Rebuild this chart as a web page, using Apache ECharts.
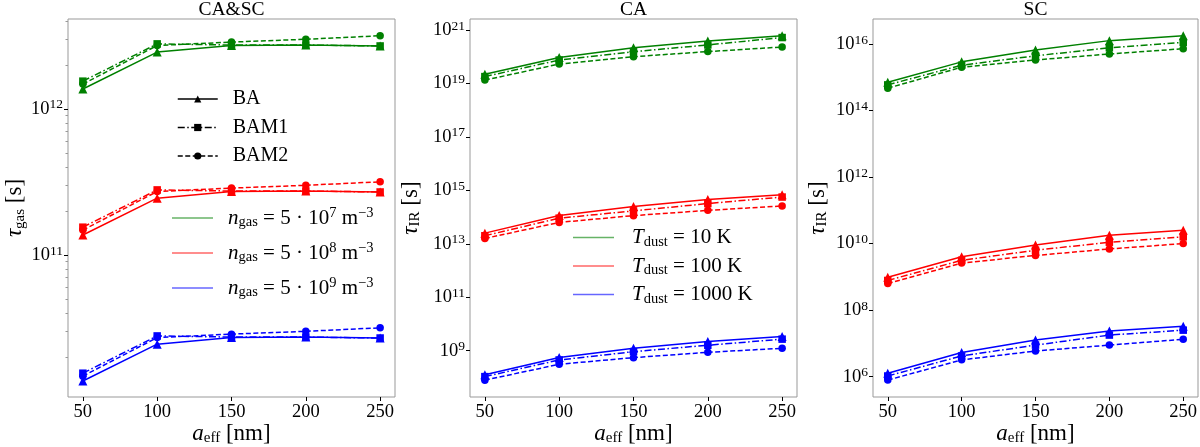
<!DOCTYPE html>
<html><head><meta charset="utf-8">
<script src="https://cdn.jsdelivr.net/npm/echarts@6/dist/echarts.min.js"></script>
<style>html,body{margin:0;padding:0;background:#fff}#c{width:1200px;height:447px}</style>
</head><body><div id="c"></div>
<script>
// ---------- data ----------
const aEff = [50, 100, 150, 200, 250];
const xTicks = [50, 100, 150, 200, 250];

// Panel 1: CA&SC, tau_gas [s]
const gasBA_7   = [1.37e12, 2.45e12, 2.72e12, 2.74e12, 2.70e12];
const gasBAM1_7 = [1.55e12, 2.79e12, 2.74e12, 2.74e12, 2.70e12];
const gasBAM2_7 = [1.48e12, 2.72e12, 2.87e12, 3.00e12, 3.17e12];
const gasBA_8   = [1.37e11, 2.45e11, 2.72e11, 2.74e11, 2.70e11];
const gasBAM1_8 = [1.55e11, 2.79e11, 2.74e11, 2.74e11, 2.70e11];
const gasBAM2_8 = [1.48e11, 2.72e11, 2.87e11, 3.00e11, 3.17e11];
const gasBA_9   = [1.37e10, 2.45e10, 2.72e10, 2.74e10, 2.70e10];
const gasBAM1_9 = [1.55e10, 2.79e10, 2.74e10, 2.74e10, 2.70e10];
const gasBAM2_9 = [1.48e10, 2.72e10, 2.87e10, 3.00e10, 3.17e10];

// Panel 2: CA, tau_IR [s]
const caBA_10     = [2.2e19, 9.4e19, 2.15e20, 3.9e20, 6.1e20];
const caBAM1_10   = [1.8e19, 7.5e19, 1.54e20, 2.75e20, 5.2e20];
const caBAM2_10   = [1.33e19, 5.3e19, 1.0e20, 1.55e20, 2.3e20];
const caBA_100    = [2.5e13, 1.15e14, 2.5e14, 4.5e14, 6.9e14];
const caBAM1_100  = [2.0e13, 9.1e13, 1.7e14, 3.2e14, 5.6e14];
const caBAM2_100  = [1.58e13, 6.3e13, 1.13e14, 1.78e14, 2.6e14];
const caBA_1000   = [1.26e8, 5.6e8, 1.23e9, 2.2e9, 3.4e9];
const caBAM1_1000 = [1.07e8, 4.5e8, 9.2e8, 1.6e9, 2.7e9];
const caBAM2_1000 = [7.9e7, 3.1e8, 5.5e8, 8.7e8, 1.23e9];

// Panel 3: SC, tau_IR [s]
const scBA_10     = [7.1e14, 2.9e15, 6.6e15, 1.26e16, 1.78e16];
const scBAM1_10   = [5.9e14, 2.3e15, 4.4e15, 7.7e15, 1.12e16];
const scBAM2_10   = [4.7e14, 2.0e15, 3.3e15, 5.0e15, 7.2e15];
const scBA_100    = [9.7e8, 4.0e9, 9.1e9, 1.78e10, 2.5e10];
const scBAM1_100  = [7.8e8, 3.15e9, 6.3e9, 1.1e10, 1.6e10];
const scBAM2_100  = [6.3e8, 2.6e9, 4.4e9, 6.9e9, 1.0e10];
const scBA_1000   = [1.26e6, 5.3e6, 1.26e7, 2.35e7, 3.3e7];
const scBAM1_1000 = [1.05e6, 4.2e6, 8.9e6, 1.78e7, 2.5e7];
const scBAM2_1000 = [7.9e5, 3.2e6, 5.9e6, 8.9e6, 1.33e7];

// tick labels
const yTicksGas = [1e11, 1e12];
const yMinorGas = [2e10,3e10,4e10,5e10,6e10,7e10,8e10,9e10,2e11,3e11,4e11,5e11,6e11,7e11,8e11,9e11,2e12,3e12,4e12];
const yTicksCA = [1e9, 1e11, 1e13, 1e15, 1e17, 1e19, 1e21];
const yTicksSC = [1e6, 1e8, 1e10, 1e12, 1e14, 1e16];

const panelTitles = ['CA&SC', 'CA', 'SC'];
const modelNames = ['BA', 'BAM1', 'BAM2'];
const gasLegend = ['n7', 'n8', 'n9'];
const dustLegend = ['T10', 'T100', 'T1000'];
const gasExp = {n7: '7', n8: '8', n9: '9'};
const dustVal = {T10: '10', T100: '100', T1000: '1000'};

// ---------- style ----------
const SERIF = '"Liberation Serif", "DejaVu Serif", serif';
const GREEN = '#008000', RED = '#ff0000', BLUE = '#0000ff';
const colors = [GREEN, RED, BLUE];
const lineTypes = ['solid', [7, 2.5, 1.5, 2.5], [5, 2.5]];
const symbols = ['triangle', 'rect', 'circle'];
const symSizes = [9, 7.5, 7.5];

const rich = {
  n:   {fontFamily: SERIF, fontSize: 21, color: '#000', lineHeight: 24},
  i:   {fontFamily: SERIF, fontSize: 21, fontStyle: 'italic', color: '#000', lineHeight: 24},
  sub: {fontFamily: SERIF, fontSize: 14.5, color: '#000', lineHeight: 14, verticalAlign: 'bottom'},
  sup: {fontFamily: SERIF, fontSize: 14.5, color: '#000', lineHeight: 13, verticalAlign: 'top'},
  b:   {fontFamily: SERIF, fontSize: 18.5, color: '#000', lineHeight: 22},
  s:   {fontFamily: SERIF, fontSize: 13.5, color: '#000', lineHeight: 12, verticalAlign: 'top'}
};
const nameRich = {
  n:   {fontFamily: SERIF, fontSize: 23, color: '#000', lineHeight: 24},
  i:   {fontFamily: SERIF, fontSize: 23, fontStyle: 'italic', color: '#000', lineHeight: 24},
  sub: {fontFamily: SERIF, fontSize: 15, color: '#000', lineHeight: 14, verticalAlign: 'bottom'}
};

const grids = [
  {left: 68,  top: 19, width: 327, height: 378},
  {left: 470, top: 19, width: 327, height: 378},
  {left: 873, top: 19, width: 325, height: 378}
].map(g => Object.assign(g, {show: true, borderColor: '#999', borderWidth: 1, backgroundColor: 'transparent',
  containLabel: false, outerBoundsMode: 'none'}));

const yExtents = [[1.065e10, 4.13e12], [1.85e7, 2.57e21], [2.45e5, 5.63e16]];
const yTickSets = [yTicksGas, yTicksCA, yTicksSC];
const yNames = ['{i|τ}{sub|gas}{n| [s]}', '{i|τ}{sub|IR}{n| [s]}', '{i|τ}{sub|IR}{n| [s]}'];
const yNameGaps = [40, 47, 43];

const xAxes = grids.map((g, k) => ({
  type: 'value', gridIndex: k, min: 40, max: 260,
  axisLine: {show: false},
  splitLine: {show: false},
  axisTick: {show: true, customValues: xTicks, length: 4, lineStyle: {color: '#000', width: 1}},
  axisLabel: {customValues: xTicks, fontFamily: SERIF, fontSize: 18.5, color: '#000', margin: 6},
  name: '{i|a}{sub|eff}{n| [nm]}', nameLocation: 'middle', nameGap: 25, nameMoveOverlap: false,
  nameTextStyle: {rich: nameRich}
}));

const expFmt = v => '{b|10}{s|' + Math.round(Math.log10(v)) + '}';

const yAxes = grids.map((g, k) => ({
  type: 'log', logBase: 10, gridIndex: k, min: yExtents[k][0], max: yExtents[k][1],
  axisLine: {show: false},
  splitLine: {show: false},
  minorTick: {show: false},
  axisTick: {show: true, customValues: yTickSets[k], length: 4, lineStyle: {color: '#000', width: 1}},
  axisLabel: {customValues: yTickSets[k], formatter: expFmt, rich: rich, margin: 5},
  name: yNames[k], nameLocation: 'middle', nameGap: yNameGaps[k], nameRotate: 90,
  nameTextStyle: {rich: nameRich}
}));
// minor ticks for panel 1
yAxes.push({
  type: 'log', logBase: 10, gridIndex: 0, min: yExtents[0][0], max: yExtents[0][1], position: 'left',
  axisLine: {show: false}, splitLine: {show: false},
  axisTick: {show: true, customValues: yMinorGas, length: 2.5, lineStyle: {color: '#999', width: 1}},
  axisLabel: {show: false}
});

function mk(name, vals, color, m, k) {
  return {
    type: 'line', name: name, xAxisIndex: k, yAxisIndex: k,
    data: aEff.map((x, j) => [x, vals[j]]),
    symbol: symbols[m], symbolSize: symSizes[m],
    lineStyle: {color: color, width: 1.5, type: lineTypes[m]},
    itemStyle: {color: color},
    emphasis: {disabled: true},
    animation: false, z: 3 + m
  };
}

const panelData = [
  [[gasBA_7, gasBAM1_7, gasBAM2_7], [gasBA_8, gasBAM1_8, gasBAM2_8], [gasBA_9, gasBAM1_9, gasBAM2_9]],
  [[caBA_10, caBAM1_10, caBAM2_10], [caBA_100, caBAM1_100, caBAM2_100], [caBA_1000, caBAM1_1000, caBAM2_1000]],
  [[scBA_10, scBAM1_10, scBAM2_10], [scBA_100, scBAM1_100, scBAM2_100], [scBA_1000, scBAM1_1000, scBAM2_1000]]
];

const series = [];
panelData.forEach((panel, k) => {
  panel.forEach((group, c) => {
    group.forEach((vals, m) => {
      series.push(mk('p' + k + '-c' + c + '-m' + m, vals, colors[c], m, k));
    });
  });
});
// legend-only series
modelNames.forEach((nm, m) => {
  series.push({type: 'line', name: nm, xAxisIndex: 0, yAxisIndex: 0, data: [],
    symbol: symbols[m], symbolSize: 7,
    lineStyle: {color: '#000', width: 1.5, type: lineTypes[m]}, itemStyle: {color: '#000'}, animation: false});
});
gasLegend.forEach((nm, c) => {
  series.push({type: 'line', name: nm, xAxisIndex: 0, yAxisIndex: 0, data: [], symbol: 'none',
    lineStyle: {color: colors[c], width: 1}, itemStyle: {color: colors[c]}, animation: false});
});
dustLegend.forEach((nm, c) => {
  series.push({type: 'line', name: nm, xAxisIndex: 1, yAxisIndex: 1, data: [], symbol: 'none',
    lineStyle: {color: colors[c], width: 1}, itemStyle: {color: colors[c]}, animation: false});
});

const fadeCols = ['rgba(0,128,0,0.6)', 'rgba(255,0,0,0.6)', 'rgba(0,0,255,0.6)'];

const legends = [
  {
    data: modelNames, orient: 'vertical', left: 177, top: 88, padding: 0,
    itemWidth: 40, itemHeight: 9, itemGap: 6.5, selectedMode: false,
    lineStyle: {width: 1.5},
    textStyle: {fontFamily: SERIF, fontSize: 20, color: '#000', lineHeight: 22, padding: [0, 0, 0, 10]}
  },
  {
    data: gasLegend.map((nm, c) => ({name: nm, icon: 'rect', itemStyle: {color: fadeCols[c]}})),
    orient: 'vertical', left: 172, top: 206, padding: 0,
    itemWidth: 41, itemHeight: 1.3, itemGap: 11, selectedMode: false,
    formatter: nm => '{i|n}{sub|gas}{n| = 5 · 10}{sup|' + gasExp[nm] + '}{n| m}{sup|−3}',
    textStyle: {rich: rich, padding: [0, 0, 0, 10]}
  },
  {
    data: dustLegend.map((nm, c) => ({name: nm, icon: 'rect', itemStyle: {color: fadeCols[c]}})),
    orient: 'vertical', left: 573, top: 227, padding: 0,
    itemWidth: 41, itemHeight: 1.3, itemGap: 6, selectedMode: false,
    formatter: nm => '{i|T}{sub|dust}{n| = ' + dustVal[nm] + ' K}',
    textStyle: {rich: rich, padding: [0, 0, 0, 13]}
  }
];

const titles = panelTitles.map((t, k) => ({
  text: t, left: grids[k].left + grids[k].width / 2, top: 0, textAlign: 'center', padding: 0,
  textStyle: {fontFamily: SERIF, fontSize: 19.5, fontWeight: 'normal', color: '#000'}
}));

const chart = echarts.init(document.getElementById('c'), null, {renderer: 'canvas'});
chart.setOption({
  animation: false,
  backgroundColor: '#fff',
  title: titles,
  grid: grids,
  xAxis: xAxes,
  yAxis: yAxes,
  legend: legends,
  series: series
});
</script>
</body></html>
